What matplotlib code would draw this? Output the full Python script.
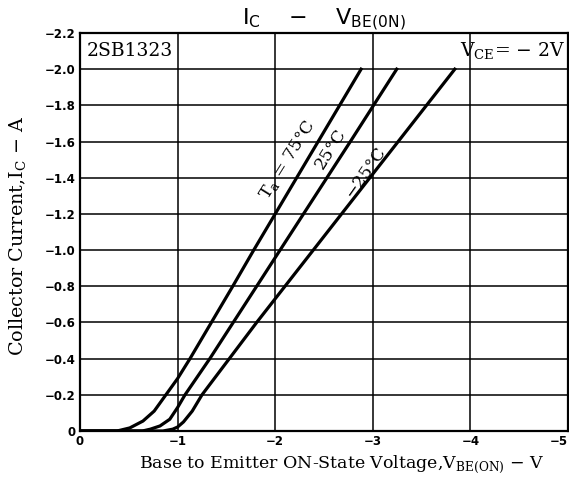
import matplotlib
matplotlib.use("Agg")
import matplotlib.pyplot as plt

# curves (V_BE in V, I_C in A)
vbe_75 = [0, -0.38, -0.51, -0.645, -0.76, -0.88, -1.0, -1.127, -1.346, -1.565, -1.78, -2.0, -2.44, -2.88]
ic_75 = [0, 0, -0.017, -0.055, -0.11, -0.2, -0.29, -0.4, -0.6, -0.8, -1.0, -1.2, -1.6, -2.0]

vbe_25 = [0, -0.64, -0.72, -0.82, -0.92, -1.0, -1.076, -1.33, -1.57, -1.81, -2.05, -2.29, -2.77, -3.245]
ic_25 = [0, 0, -0.01, -0.028, -0.065, -0.13, -0.2, -0.4, -0.6, -0.8, -1.0, -1.2, -1.6, -2.0]

vbe_m25 = [0, -0.85, -0.95, -1.0, -1.06, -1.15, -1.25, -1.53, -1.81, -2.1, -2.39, -2.68, -2.97, -3.26, -3.84]
ic_m25 = [0, 0, -0.01, -0.022, -0.05, -0.11, -0.2, -0.4, -0.6, -0.8, -1.0, -1.2, -1.4, -1.6, -2.0]

xticks = [0, -1, -2, -3, -4, -5]
xlabels = ["0", "−1", "−2", "−3", "−4", "−5"]
yticks = [0, -0.2, -0.4, -0.6, -0.8, -1.0, -1.2, -1.4, -1.6, -1.8, -2.0, -2.2]
ylabels = ["0", "−0.2", "−0.4", "−0.6", "−0.8", "−1.0", "−1.2", "−1.4", "−1.6", "−1.8", "−2.0", "−2.2"]

serif = "DejaVu Serif"

fig = plt.figure(figsize=(5.69, 4.86), dpi=100)
ax = fig.add_axes([80 / 569, 55 / 486, 488 / 569, 398 / 486])
ax.set_xlim(0, -5)
ax.set_ylim(0, -2.2)

# grid
for x in xticks[1:-1]:
    ax.axvline(x, color="black", lw=1.1, zorder=1)
for y in yticks[1:-1]:
    ax.axhline(y, color="black", lw=1.1, zorder=1)

for xs, ys in [(vbe_75, ic_75), (vbe_25, ic_25), (vbe_m25, ic_m25)]:
    ax.plot(xs, ys, color="black", lw=2.3, solid_joinstyle="round", zorder=3)

for s in ax.spines.values():
    s.set_linewidth(1.6)

ax.set_xticks(xticks)
ax.set_xticklabels(xlabels, fontsize=8.5, fontweight="bold")
ax.get_xticklabels()[-1].set_horizontalalignment("right")
ax.set_yticks(yticks)
ax.set_yticklabels(ylabels, fontsize=8.5, fontweight="bold")
ax.tick_params(length=0, pad=3)

ax.set_xlabel(r"Base to Emitter ON-State Voltage,V$_{\mathregular{BE(ON)}}$ − V",
              family=serif, fontsize=12.5, labelpad=1)
ax.xaxis.set_label_coords(0.537, -0.055)
ax.set_ylabel(r"Collector Current,I$_{\mathregular{C}}$ − A", family=serif, fontsize=13.8)
ax.yaxis.set_label_coords(-0.105, 0.49)
ax.set_title(r"I$_{\mathregular{C}}$    −    V$_{\mathregular{BE(0N)}}$", fontsize=16, pad=3)

ax.text(-0.07, -2.1, "2SB1323", family=serif, fontsize=13.5, va="center", ha="left")
ax.text(-4.97, -2.1, r"V$_{\mathregular{CE}}$= − 2V", family=serif, fontsize=13.5, va="center", ha="right")

ax.text(-2.13, -1.5, r"T$_{\mathregular{a}}$ = 75°C", family=serif, fontsize=12.5,
        rotation=58, ha="center", va="center", rotation_mode="anchor")
ax.text(-2.57, -1.56, "25°C", family=serif, fontsize=12.5,
        rotation=58, ha="center", va="center", rotation_mode="anchor")
ax.text(-2.92, -1.43, "−25°C", family=serif, fontsize=12.5,
        rotation=55, ha="center", va="center", rotation_mode="anchor")

fig.savefig("out.png", dpi=100)
